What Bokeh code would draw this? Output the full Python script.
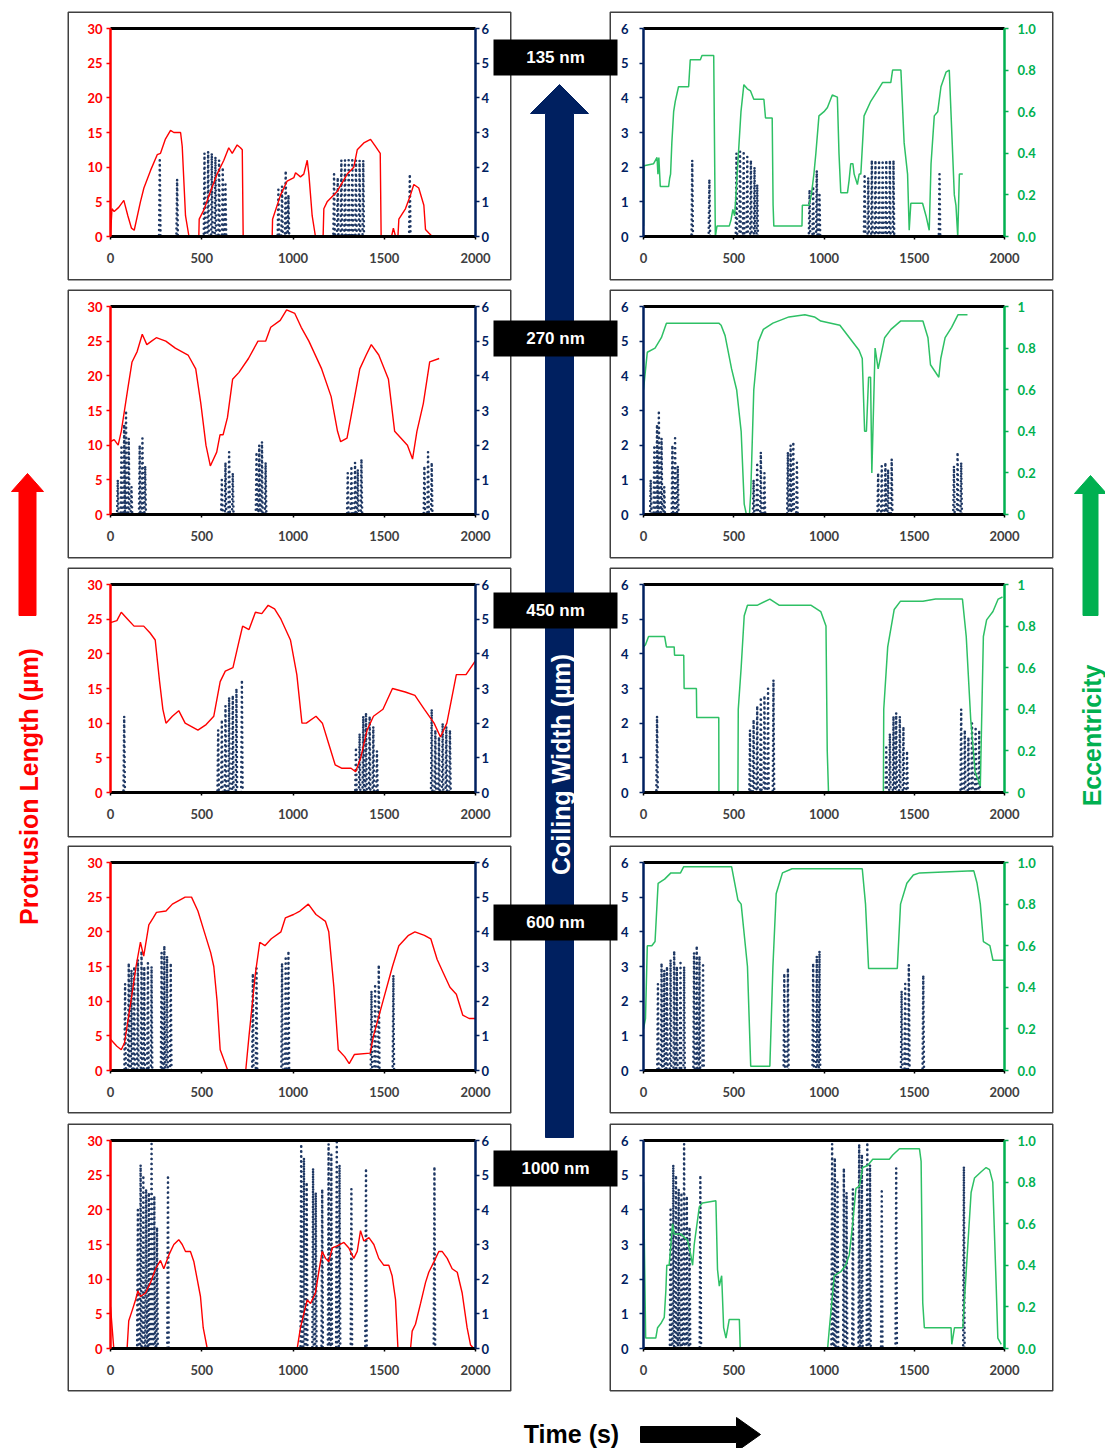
import numpy as np
from bokeh.plotting import figure
from bokeh.models import Range1d, LinearAxis, FixedTicker, GridBox, PrintfTickFormatter
from bokeh.core.properties import value
from bokeh.embed import file_html
from bokeh.resources import INLINE

# ---------------- data ----------------
TIME_TICKS = [0, 500, 1000, 1500, 2000]
PROT_TICKS = [0, 5, 10, 15, 20, 25, 30]
COIL_TICKS = [0, 1, 2, 3, 4, 5, 6]
ECC_TICKS = [0, 0.2, 0.4, 0.6, 0.8, 1.0]
ROW_LABELS = ["135 nm", "270 nm", "450 nm", "600 nm", "1000 nm"]
ECC_LABEL_STYLE = ["0.0", "0", "0", "0.0", "0.0"]
COIL_END = [1780, 1800, 2000, 2000, 2000]

# protrusion length (um): (time s, value)
PROT_135 = [(0, 0), (8, 4), (20, 3.6), (45, 4.2), (73, 5.2), (95, 3), (115, 1.2), (130, 0.9), (164, 5), (183, 7),
            (219, 9.5), (256, 11.8), (274, 12), (300, 14), (329, 15.3), (347, 15), (384, 15), (393, 13), (411, 3),
            (430, 0), (484, 0), (486, 2.5), (511, 3.8), (548, 6.5), (584, 9), (621, 11), (648, 12.8), (667, 12),
            (694, 13.2), (712, 12.8), (722, 12.5), (727, 0), (886, 0), (888, 2.5), (932, 6), (968, 8), (1005, 8.5),
            (1014, 9.2), (1041, 8.6), (1059, 9), (1078, 11), (1087, 9), (1105, 3), (1123, 0), (1165, 0), (1169, 4),
            (1187, 5), (1242, 6.5), (1297, 9), (1333, 10), (1352, 12.5), (1388, 13.5), (1425, 14), (1452, 13),
            (1465, 12.5), (1478, 12), (1483, 0), (1540, 0), (1550, 1.2), (1562, 0), (1575, 0), (1580, 2.5),
            (1616, 4), (1644, 6), (1662, 7.5), (1689, 7), (1717, 4.5), (1726, 1), (1744, 0.5), (1763, 0), (1780, 0)]
PROT_270 = [(0, 10.5), (20, 10.8), (42, 10), (59, 12), (94, 18), (118, 22), (146, 23.5), (174, 26), (199, 24.5),
            (225, 25), (251, 25.5), (303, 25), (355, 24), (425, 23), (467, 21), (495, 16), (523, 10), (547, 7),
            (582, 9), (600, 11.5), (617, 11.5), (641, 14), (669, 19.5), (704, 20.5), (756, 22.5), (808, 25),
            (850, 25), (878, 27), (930, 28), (965, 29.5), (1010, 29), (1045, 27), (1087, 25), (1157, 21),
            (1209, 17), (1244, 12), (1261, 10.5), (1296, 11), (1331, 16), (1366, 21), (1401, 23), (1429, 24.5),
            (1470, 23), (1523, 19.5), (1557, 12), (1592, 11), (1627, 10), (1655, 8), (1679, 12), (1714, 16),
            (1749, 22), (1801, 22.5)]
PROT_450 = [(0, 24.5), (35, 24.8), (59, 26), (94, 25), (129, 24), (182, 24), (217, 23), (245, 22), (269, 16),
            (287, 12), (304, 10), (339, 11), (374, 11.8), (409, 10), (444, 9.5), (479, 9), (524, 9.8), (566, 11),
            (601, 16), (629, 17.5), (671, 18), (706, 22), (724, 24), (759, 23.5), (794, 26), (829, 25.8),
            (864, 27), (899, 26.5), (934, 25), (986, 22), (1021, 17), (1049, 10), (1073, 10), (1126, 11),
            (1161, 10), (1196, 7), (1231, 4), (1266, 3.5), (1318, 3.5), (1343, 3), (1371, 5), (1406, 9),
            (1441, 11), (1493, 12), (1545, 15), (1615, 14.5), (1668, 14), (1720, 12), (1773, 10), (1808, 8),
            (1843, 10), (1895, 17), (1948, 17), (2000, 19)]
PROT_600 = [(0, 4.5), (35, 3.5), (59, 3), (77, 4), (112, 10), (140, 15), (164, 18.5), (182, 16.5), (210, 21),
            (234, 22), (252, 22.8), (304, 23), (339, 24), (374, 24.5), (409, 25), (444, 25), (479, 23), (514, 20),
            (549, 17), (566, 15), (584, 10), (601, 3), (643, 0), (741, 0), (759, 5), (794, 14), (818, 18.5),
            (846, 18), (881, 19), (934, 20), (958, 22), (1003, 22.5), (1038, 23), (1084, 24), (1126, 22.5),
            (1178, 21.5), (1196, 20), (1224, 12), (1248, 3), (1283, 2), (1308, 1), (1336, 2.3), (1423, 2.5),
            (1441, 5), (1493, 10), (1545, 15), (1580, 18), (1633, 19.5), (1668, 20), (1720, 19.5), (1755, 19),
            (1790, 16), (1825, 14), (1860, 12), (1895, 11), (1930, 8), (1965, 7.5), (2000, 7.5)]
PROT_1000 = [(0, 6), (18, 0), (91, 0), (100, 4), (119, 5.5), (137, 7), (150, 8.3), (164, 7.5), (192, 8),
             (219, 9.5), (247, 11.5), (274, 12.7), (292, 11.5), (320, 13.5), (347, 15), (374, 15.7), (393, 15),
             (411, 14), (438, 14), (457, 12.5), (475, 10), (493, 7.5), (508, 3), (530, 0), (1023, 0), (1041, 3),
             (1059, 5), (1078, 7), (1096, 6.5), (1123, 8), (1141, 11), (1160, 14), (1178, 13), (1196, 12.5),
             (1215, 14.5), (1242, 14.8), (1279, 15.3), (1306, 14.5), (1333, 13), (1352, 14), (1370, 17),
             (1388, 15.5), (1416, 16), (1443, 15), (1470, 13), (1498, 12), (1525, 12), (1543, 10.5), (1562, 7),
             (1575, 0), (1644, 0), (1653, 2.5), (1671, 3.5), (1699, 6.5), (1726, 9.5), (1744, 11), (1772, 12.5),
             (1799, 14), (1817, 14), (1845, 13), (1872, 11.5), (1900, 11), (1927, 8), (1954, 3), (1973, 0.5),
             (1991, 0)]

# eccentricity: (time s, value)
ECC_135 = [(0, 0.05), (3, 0.34), (56, 0.35), (75, 0.38), (80, 0.3), (85, 0.38), (93, 0.24), (139, 0.24),
           (145, 0.28), (150, 0.3), (157, 0.45), (167, 0.6), (176, 0.65), (194, 0.72), (250, 0.72), (259, 0.85),
           (315, 0.85), (324, 0.87), (389, 0.87), (398, 0.0), (407, 0.05), (475, 0.05), (485, 0.08), (495, 0.13),
           (505, 0.1), (519, 0.3), (540, 0.6), (556, 0.73), (575, 0.71), (593, 0.7), (611, 0.66), (667, 0.66),
           (676, 0.57), (713, 0.57), (718, 0.15), (722, 0.05), (878, 0.05), (880, 0.15), (917, 0.15), (930, 0.2),
           (944, 0.3), (955, 0.4), (972, 0.58), (1000, 0.6), (1019, 0.62), (1046, 0.68), (1074, 0.67),
           (1083, 0.4), (1093, 0.21), (1130, 0.21), (1139, 0.27), (1148, 0.35), (1160, 0.35), (1167, 0.3),
           (1185, 0.25), (1195, 0.3), (1204, 0.3), (1222, 0.58), (1259, 0.65), (1296, 0.7), (1324, 0.74),
           (1370, 0.74), (1380, 0.8), (1426, 0.8), (1444, 0.45), (1463, 0.3), (1472, 0.03), (1481, 0.16),
           (1546, 0.16), (1565, 0.1), (1583, 0.03), (1593, 0.35), (1611, 0.58), (1630, 0.6), (1648, 0.72),
           (1676, 0.79), (1694, 0.8), (1722, 0.2), (1731, 0.15), (1741, 0.0), (1750, 0.3), (1769, 0.3)]
ECC_270 = [(0, 0.6), (21, 0.78), (64, 0.8), (99, 0.85), (127, 0.92), (417, 0.92), (430, 0.91), (452, 0.86),
           (488, 0.7), (516, 0.6), (541, 0.4), (558, 0.05), (570, 0.0), (587, 0.0), (594, 0.1), (611, 0.6),
           (636, 0.83), (664, 0.89), (717, 0.92), (806, 0.95), (894, 0.96), (947, 0.95), (982, 0.93),
           (1088, 0.91), (1141, 0.85), (1194, 0.79), (1212, 0.75), (1225, 0.4), (1235, 0.4), (1247, 0.66),
           (1258, 0.66), (1265, 0.2), (1283, 0.8), (1300, 0.7), (1336, 0.85), (1371, 0.89), (1424, 0.93),
           (1548, 0.93), (1576, 0.85), (1590, 0.72), (1636, 0.66), (1647, 0.75), (1671, 0.85), (1707, 0.9),
           (1742, 0.96), (1795, 0.96)]
ECC_450 = [(0, 0.7), (11, 0.71), (28, 0.75), (117, 0.75), (127, 0.7), (170, 0.7), (172, 0.66), (223, 0.66),
           (225, 0.5), (293, 0.5), (295, 0.36), (417, 0.36), (418, 0.0), (523, 0.0), (525, 0.4), (541, 0.6),
           (558, 0.85), (576, 0.9), (629, 0.9), (700, 0.93), (753, 0.9), (929, 0.9), (982, 0.87), (1011, 0.8),
           (1018, 0.2), (1025, 0.0), (1329, 0.0), (1331, 0.4), (1353, 0.7), (1389, 0.88), (1424, 0.92),
           (1548, 0.92), (1618, 0.93), (1767, 0.93), (1788, 0.75), (1813, 0.35), (1837, 0.1), (1866, 0.03),
           (1883, 0.75), (1901, 0.83), (1936, 0.87), (1965, 0.93), (1989, 0.94)]
ECC_600 = [(0, 0.2), (11, 0.25), (21, 0.6), (46, 0.6), (64, 0.62), (81, 0.9), (117, 0.92), (152, 0.95),
           (205, 0.95), (223, 0.98), (488, 0.98), (523, 0.82), (541, 0.8), (576, 0.5), (594, 0.02), (700, 0.02),
           (717, 0.5), (735, 0.85), (770, 0.95), (823, 0.97), (1212, 0.97), (1230, 0.8), (1247, 0.49),
           (1406, 0.49), (1424, 0.8), (1459, 0.9), (1495, 0.94), (1530, 0.95), (1830, 0.96), (1848, 0.9),
           (1866, 0.8), (1883, 0.62), (1919, 0.6), (1936, 0.53), (2000, 0.53)]
ECC_1000 = [(0, 0.8), (12, 0.05), (68, 0.05), (78, 0.1), (96, 0.12), (115, 0.15), (124, 0.28), (129, 0.4),
            (142, 0.4), (152, 0.5), (161, 0.6), (170, 0.55), (207, 0.55), (244, 0.52), (262, 0.45), (272, 0.4),
            (281, 0.5), (309, 0.68), (327, 0.7), (401, 0.71), (410, 0.38), (420, 0.3), (433, 0.35), (444, 0.1),
            (457, 0.05), (475, 0.14), (531, 0.14), (536, 0.0), (1020, 0.0), (1030, 0.1), (1057, 0.35),
            (1094, 0.37), (1120, 0.4), (1140, 0.45), (1159, 0.6), (1177, 0.77), (1196, 0.78), (1214, 0.87),
            (1242, 0.88), (1270, 0.91), (1362, 0.91), (1381, 0.93), (1418, 0.96), (1529, 0.96), (1538, 0.9),
            (1547, 0.22), (1556, 0.1), (1704, 0.1), (1708, 0.02), (1723, 0.1), (1769, 0.1), (1797, 0.5),
            (1815, 0.75), (1834, 0.82), (1871, 0.85), (1898, 0.87), (1917, 0.86), (1935, 0.8), (1954, 0.3),
            (1963, 0.05), (1982, 0.02)]

# coiling width spikes (um): (time s, peak)
COIL_135 = [(270, 2.2), (365, 1.65), (515, 2.4), (535, 2.45), (555, 2.4), (575, 2.3), (595, 2.2), (615, 2.0),
            (630, 1.5), (920, 1.35), (940, 1.45), (960, 1.9), (975, 1.2), (1225, 1.8), (1245, 1.7), (1265, 2.2),
            (1285, 2.2), (1305, 2.2), (1325, 2.2), (1345, 2.2), (1365, 2.2), (1385, 2.2), (1640, 1.8)]
COIL_270 = [(40, 1.0), (60, 2.0), (75, 2.6), (85, 3.0), (100, 2.2), (115, 0.8), (160, 2.0), (175, 2.2),
            (190, 1.4), (610, 1.0), (630, 1.5), (650, 1.8), (670, 1.2), (800, 1.8), (815, 2.0), (830, 2.1),
            (850, 1.5), (1300, 1.2), (1320, 1.4), (1340, 1.5), (1355, 1.3), (1375, 1.6), (1720, 1.4),
            (1740, 1.8), (1760, 1.5)]
COIL_450 = [(75, 2.2), (590, 1.8), (610, 2.1), (630, 2.5), (650, 2.75), (670, 2.8), (690, 3.0), (720, 3.25),
            (1345, 1.3), (1365, 1.7), (1385, 2.2), (1400, 2.3), (1420, 2.2), (1440, 1.9), (1460, 1.2),
            (1760, 2.4), (1780, 1.8), (1800, 1.6), (1820, 2.0), (1840, 1.9), (1860, 1.8)]
COIL_600 = [(80, 2.5), (100, 3.1), (115, 2.9), (130, 3.0), (150, 3.2), (170, 3.45), (185, 3.0), (205, 3.1),
            (225, 3.0), (280, 3.4), (295, 3.6), (310, 3.3), (330, 3.1), (780, 2.8), (800, 2.95), (940, 3.1),
            (960, 3.3), (975, 3.45), (1430, 2.3), (1450, 2.5), (1470, 3.05), (1550, 2.75)]
COIL_1000 = [(150, 4.0), (165, 5.3), (180, 5.0), (195, 4.6), (210, 4.5), (225, 5.9), (240, 4.4), (255, 3.5),
             (315, 5.0), (1045, 5.9), (1060, 5.5), (1075, 4.8), (1110, 5.2), (1125, 4.5), (1160, 4.6),
             (1195, 5.9), (1210, 5.6), (1240, 5.95), (1255, 5.3), (1320, 4.6), (1400, 5.2), (1775, 5.25)]

PROT = [PROT_135, PROT_270, PROT_450, PROT_600, PROT_1000]
ECC = [ECC_135, ECC_270, ECC_450, ECC_600, ECC_1000]
COIL = [COIL_135, COIL_270, COIL_450, COIL_600, COIL_1000]

# ---------------- layout / style ----------------
W, H = 1105, 1448
COL_W = [67, 444, 98, 444, 52]
ROW_H = [11, 269, 9, 269, 9, 270, 8, 268, 10, 268, 57]
PANEL_ROWS = [1, 3, 5, 7, 9]
LABEL_Y = [57, 338, 610, 922, 1168]

RED = "#FF0000"
NAVY = "#002060"
DOT = "#1F3864"
GREEN = "#00B050"
GREEN_LINE = "#2EC065"
GREY = "#404040"
TICK_FONT = "Lato"
TITLE_FONT = "Liberation Sans"


def pairs(seq):
    return [a for a, _ in seq], [b for _, b in seq]


def coil_path(spikes, end):
    xs, ys = [0], [0]
    for t, h in spikes:
        xs += [t - 4, t, t + 4]
        ys += [0, h, 0]
    xs.append(end)
    ys.append(0)
    return xs, ys


def style_axis(ax, color, label_color, ticks, standoff, lw=2.5, tick_out=4):
    ax.ticker = FixedTicker(ticks=ticks)
    ax.axis_line_color = color
    ax.axis_line_width = lw
    ax.major_tick_line_color = color
    ax.major_tick_line_width = 1.5
    ax.major_tick_out = tick_out
    ax.major_tick_in = 0
    ax.minor_tick_line_color = None
    ax.major_label_text_color = label_color
    ax.major_label_text_font = TICK_FONT
    ax.major_label_text_font_style = "bold"
    ax.major_label_text_font_size = "13px"
    ax.major_label_standoff = standoff


def make_panel(kind, r):
    h = ROW_H[PANEL_ROWS[r]]
    top = 17
    fh = 208
    if kind == "L":
        lb, fw = 43, 365
        yr, er = Range1d(0, 30), Range1d(0, 6)
    else:
        lb, fw = 34, 361
        yr, er = Range1d(0, 6), Range1d(0, 1)
    p = figure(width=444, height=h, x_range=Range1d(0, 2000), y_range=yr,
               output_backend="svg", toolbar_location=None,
               min_border_left=lb, min_border_right=444 - lb - fw,
               min_border_top=top, min_border_bottom=h - top - fh)
    p.extra_y_ranges = {"r": er}
    p.outline_line_color = None
    p.xgrid.visible = False
    p.ygrid.visible = False
    p.background_fill_color = "white"
    p.border_fill_color = "white"

    style_axis(p.xaxis[0], "black", GREY, TIME_TICKS, 13, lw=3, tick_out=3)
    top_ax = LinearAxis(ticker=FixedTicker(ticks=[]), axis_line_color="black", axis_line_width=3,
                        major_tick_line_color=None, minor_tick_line_color=None,
                        major_label_text_font_size="0px")
    p.add_layout(top_ax, "above")

    right_ax = LinearAxis(y_range_name="r")
    p.add_layout(right_ax, "right")

    cx, cy = coil_path(COIL[r], COIL_END[r])
    dot_kw = dict(line_color=DOT, line_width=2.6, line_dash="0 5", line_cap="round")
    if kind == "L":
        style_axis(p.yaxis[0], RED, RED, PROT_TICKS, 4)
        style_axis(right_ax, NAVY, NAVY, COIL_TICKS, 2)
        p.line(cx, cy, y_range_name="r", **dot_kw)
        px, py = pairs(PROT[r])
        p.line(px, py, line_color=RED, line_width=1.4)
    else:
        style_axis(p.yaxis[0], NAVY, NAVY, COIL_TICKS, 11)
        style_axis(right_ax, GREEN, GREEN, ECC_TICKS, 9)
        if ECC_LABEL_STYLE[r] == "0.0":
            right_ax.formatter = PrintfTickFormatter(format="%.1f")
        else:
            right_ax.major_label_overrides = {0: "0", 1: "1"}
        p.line(cx, cy, **dot_kw)
        ex, ey = pairs(ECC[r])
        p.line(ex, ey, y_range_name="r", line_color=GREEN_LINE, line_width=1.5)
    return p


children = []
for r in range(5):
    children.append((make_panel("L", r), PANEL_ROWS[r], 1))
    children.append((make_panel("R", r), PANEL_ROWS[r], 3))

# ---------------- overlay (frames, arrows, titles) ----------------
ov = figure(width=W, height=H, x_range=Range1d(0, W), y_range=Range1d(0, H),
            x_axis_type=None, y_axis_type=None, output_backend="svg", toolbar_location=None,
            min_border=0)
ov.outline_line_color = None
ov.background_fill_color = None
ov.border_fill_color = None


def Y(v):
    return H - v


col_x = np.cumsum([0] + COL_W)
row_y = np.cumsum([0] + ROW_H)
bl, br, bt, bb = [], [], [], []
for r in range(5):
    ri = PANEL_ROWS[r]
    for ci in (1, 3):
        bl.append(col_x[ci] + 0.75)
        br.append(col_x[ci + 1] - 0.75)
        bt.append(Y(row_y[ri] + 0.75))
        bb.append(Y(row_y[ri + 1] - 0.75))
ov.quad(left=bl, right=br, top=bt, bottom=bb, fill_color=None, line_color=GREY, line_width=1.5)

# central navy arrow
cxm, sw, hw, tip, base, bot = 559, 14, 29, 84, 113, 1137
ov.patch([cxm - sw, cxm - sw, cxm - hw, cxm, cxm + hw, cxm + sw, cxm + sw],
         [Y(bot), Y(base), Y(base), Y(tip), Y(base), Y(base), Y(bot)], color=NAVY)
ov.text(x=[cxm + 1], y=[Y(764)], text=["Coiling Width (µm)"], angle=np.pi / 2,
        text_color="white", text_font=value(TITLE_FONT), text_font_style="bold",
        text_font_size="25px", text_align="center", text_baseline="middle")

# red arrow + title
ax_, sw, hw, tip, base, bot = 27, 8.5, 16, 473, 491, 615
ov.patch([ax_ - sw, ax_ - sw, ax_ - hw, ax_, ax_ + hw, ax_ + sw, ax_ + sw],
         [Y(bot), Y(base), Y(base), Y(tip), Y(base), Y(base), Y(bot)], color=RED)
ov.text(x=[28], y=[Y(786)], text=["Protrusion Length (µm)"], angle=np.pi / 2,
        text_color=RED, text_font=value(TITLE_FONT), text_font_style="bold",
        text_font_size="25px", text_align="center", text_baseline="middle")

# green arrow + title
gx, sw, hw, tip, base, bot = 1090, 7.5, 16, 475, 493, 615
ov.patch([gx - sw, gx - sw, gx - hw, gx, gx + hw, gx + sw, gx + sw],
         [Y(bot), Y(base), Y(base), Y(tip), Y(base), Y(base), Y(bot)], color=GREEN)
ov.text(x=[1091], y=[Y(735)], text=["Eccentricity"], angle=np.pi / 2,
        text_color=GREEN, text_font=value(TITLE_FONT), text_font_style="bold",
        text_font_size="25px", text_align="center", text_baseline="middle")

# time title + arrow
ov.text(x=[571], y=[Y(1433)], text=["Time (s)"], text_color="black",
        text_font=value(TITLE_FONT), text_font_style="bold", text_font_size="25px",
        text_align="center", text_baseline="middle")
ty, sh, hh = 1434, 8, 17
ov.patch([640, 736, 736, 760, 736, 736, 640],
         [Y(ty - sh), Y(ty - sh), Y(ty - hh), Y(ty), Y(ty + hh), Y(ty + sh), Y(ty + sh)], color="black")

# size labels
ov.quad(left=[493] * 5, right=[617] * 5, top=[Y(y - 18) for y in LABEL_Y],
        bottom=[Y(y + 18) for y in LABEL_Y], fill_color="black", line_color=None)
ov.text(x=[555] * 5, y=[Y(y) for y in LABEL_Y], text=ROW_LABELS, text_color="white",
        text_font=value(TITLE_FONT), text_font_style="bold", text_font_size="17px",
        text_align="center", text_baseline="middle")

children.append((ov, 0, 0, len(ROW_H), len(COL_W)))

grid = GridBox(children=children, rows=[f"{v}px" for v in ROW_H], cols=[f"{v}px" for v in COL_W], spacing=0)

open("out.html", "w").write(file_html(grid, INLINE))
